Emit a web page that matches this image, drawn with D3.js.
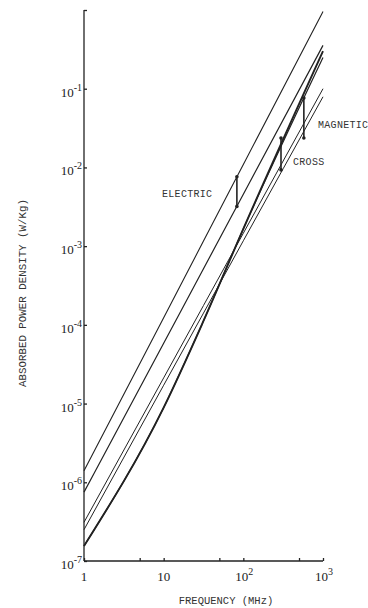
<!DOCTYPE html>
<html><head><meta charset="utf-8">
<script src="https://cdn.jsdelivr.net/npm/d3@7"></script>
<style>body{margin:0;background:#fff}svg{display:block}</style>
</head><body>
<svg id="c" width="368" height="608"></svg>
<script>
// ---- data ----
const freqs = [1, 10, 31.6, 100, 1000];                    // MHz
const lineA  = [1.4e-6, 1.23e-4, 1.16e-3, 1.09e-2, 0.955];
const lineB  = [7.5e-7, 5.85e-5, 5.16e-4, 4.56e-3, 0.355];
const lineC  = [3.1e-7, 2.12e-5, 1.76e-4, 1.46e-3, 0.100];
const lineD  = [2.5e-7, 1.71e-5, 1.41e-4, 1.17e-3, 0.079];
const lineE2 = [1.55e-7, 8.9e-6, 1.12e-4, 1.66e-3, 0.30];
const lineE3 = [1.55e-7, 8.9e-6, 1.12e-4, 1.66e-3, 0.25];
const seriesWidth = [1.1, 1.2, 1.0, 1.0, 1.9, 1.2];

const barLabels = ["ELECTRIC", "CROSS", "MAGNETIC"];
const barFreq = [83, 297, 575];
const barHigh = [7.6e-3, 0.0237, 0.076];
const barLow  = [3.2e-3, 9.3e-3, 0.0237];

const yTickExp = [-1, -2, -3, -4, -5, -6, -7];
const xTickVals = [1, 10, 100, 1000];
const xTickSup = ["", "", "2", "3"];
const xTickBase = ["1", "10", "10", "10"];
const xMinorTicks = [5, 50, 500];

// ---- drawing ----
const svg = d3.select("#c");
const x = d3.scaleLog().domain([1, 1000]).range([84, 323]);
const y = d3.scaleLog().domain([1e-7, 1]).range([561, 10]);
const ink = "#222";

const allSeries = [lineA, lineB, lineC, lineD, lineE2, lineE3];
const line = d3.line().x((d, i) => x(freqs[i])).y(d => y(d)).curve(d3.curveMonotoneX);
svg.append("g").selectAll("path").data(allSeries).join("path")
  .attr("d", d => line(d))
  .attr("fill", "none")
  .attr("stroke", ink)
  .attr("stroke-width", (d, i) => seriesWidth[i]);

// axes
const yAxis = d3.axisRight(y).tickValues(yTickExp.map(e => Math.pow(10, e)).concat([1]))
  .tickSize(3).tickFormat("");
svg.append("g").attr("transform", "translate(84,0)").call(yAxis)
  .call(g => { g.selectAll("line,path").attr("stroke", ink).attr("stroke-width", 1.3); g.select(".domain").attr("d", "M0,10V561"); });
const xAxis = d3.axisTop(x).tickValues(xTickVals.concat(xMinorTicks)).tickSize(3).tickFormat("");
svg.append("g").attr("transform", "translate(0,561)").call(xAxis)
  .call(g => { g.selectAll("line,path").attr("stroke", ink).attr("stroke-width", 1.3); g.select(".domain").attr("d", "M84,0H323"); });

// y tick labels
const serif = "'Liberation Serif', 'DejaVu Serif', serif";
const yl = svg.append("g").attr("font-family", serif).attr("fill", "#222");
yTickExp.forEach(e => {
  const t = yl.append("text").attr("x", 82).attr("y", y(Math.pow(10, e)) + 8)
    .attr("text-anchor", "end").attr("font-size", 13);
  t.append("tspan").text("10");
  t.append("tspan").attr("dy", -6).attr("font-size", 10).text("-" + (-e));
});
// x tick labels
const xl = svg.append("g").attr("font-family", serif).attr("fill", "#222");
xTickVals.forEach((v, i) => {
  const t = xl.append("text").attr("x", x(v) + (xTickSup[i] ? 1 : 0)).attr("y", 581)
    .attr("text-anchor", "middle").attr("font-size", 13);
  t.append("tspan").text(xTickBase[i]);
  if (xTickSup[i]) t.append("tspan").attr("dy", -6).attr("font-size", 10).text(xTickSup[i]);
});

// bars with end dots
const mono = "'Liberation Mono', 'DejaVu Sans Mono', monospace";
const bars = svg.append("g");
barFreq.forEach((f, i) => {
  bars.append("line").attr("x1", x(f)).attr("x2", x(f))
    .attr("y1", y(barHigh[i])).attr("y2", y(barLow[i]))
    .attr("stroke", ink).attr("stroke-width", 1.6);
  [barHigh[i], barLow[i]].forEach(v => bars.append("circle")
    .attr("cx", x(f)).attr("cy", y(v)).attr("r", 1.8).attr("fill", ink));
});
const labPos = [[162, 197], [293, 165], [318, 128]];
svg.append("g").attr("font-family", mono).attr("font-size", 10).attr("fill", "#333")
  .selectAll("text").data(barLabels).join("text")
  .attr("x", (d, i) => labPos[i][0]).attr("y", (d, i) => labPos[i][1])
  .attr("letter-spacing", 0.3)
  .text(d => d);

// axis titles
svg.append("text").attr("font-family", mono).attr("font-size", 10.8).attr("fill", "#333")
  .attr("text-anchor", "middle").attr("transform", "translate(26,293) rotate(-90)")
  .text("ABSORBED POWER DENSITY (W/Kg)");
svg.append("text").attr("font-family", mono).attr("font-size", 10.5).attr("fill", "#333")
  .attr("text-anchor", "middle").attr("x", 226).attr("y", 604)
  .text("FREQUENCY (MHz)");
</script>
</body></html>
